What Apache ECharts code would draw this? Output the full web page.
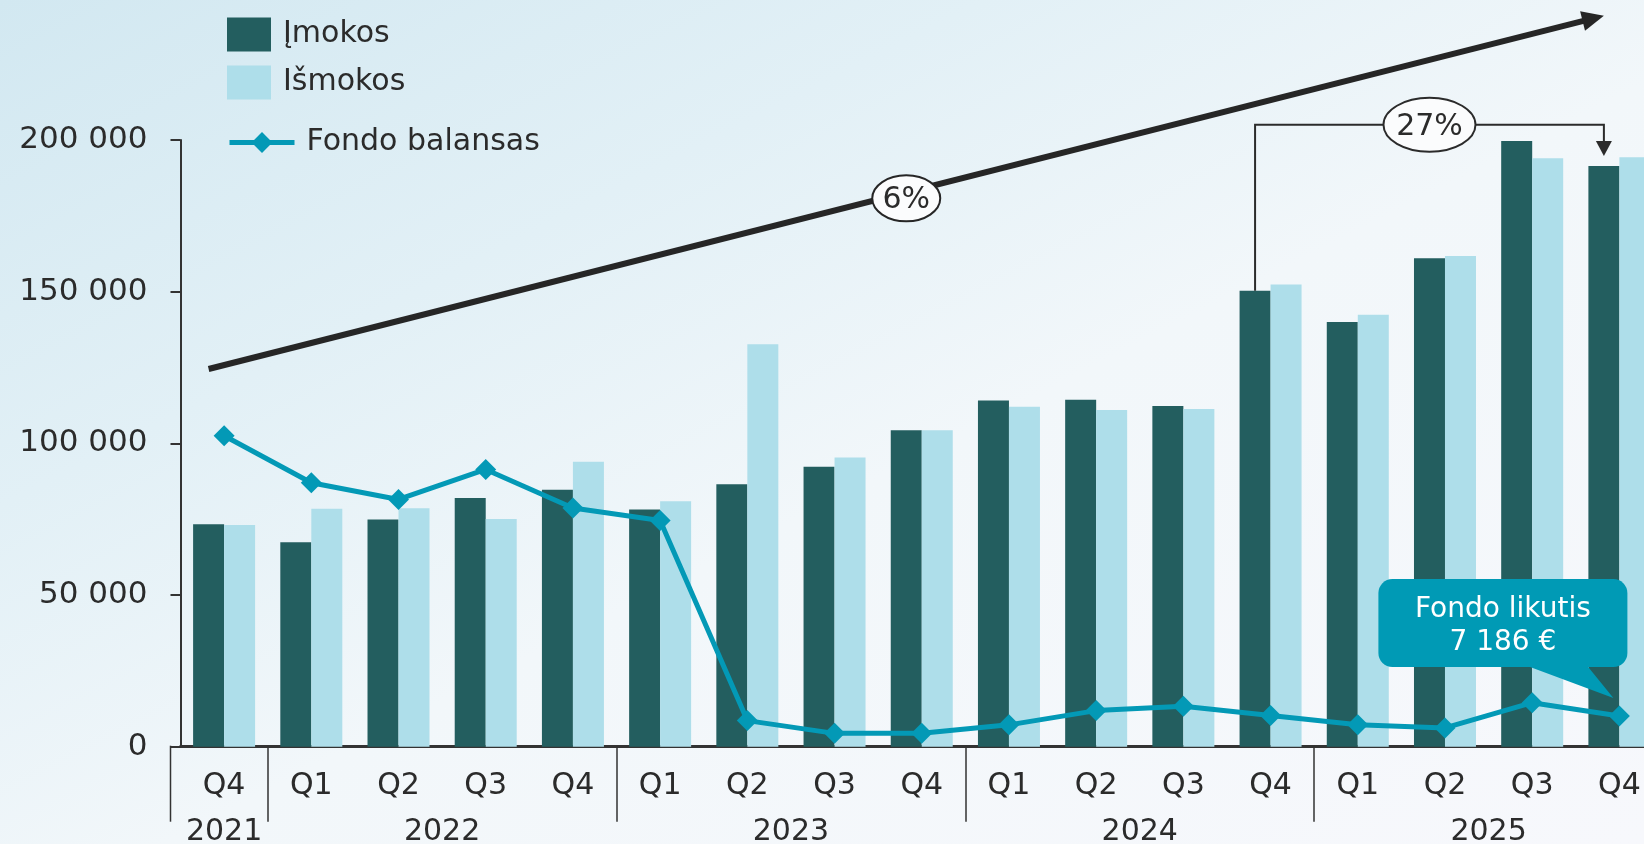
<!DOCTYPE html>
<html>
<head>
<meta charset="utf-8">
<script src="https://cdn.jsdelivr.net/npm/echarts@6/dist/echarts.min.js"></script>
<style>
  html, body { margin: 0; padding: 0; }
  #chart {
    width: 1644px;
    height: 844px;
    background: linear-gradient(to bottom right, #d2e8f1 0%, #e2f0f6 30%, #f2f7fa 55%, #f7f8fc 100%);
  }
</style>
</head>
<body>
<div id="chart"></div>
<script>
// quarters, grouped by year through the prefix
const categories = [
  '2021 Q4',
  '2022 Q1', '2022 Q2', '2022 Q3', '2022 Q4',
  '2023 Q1', '2023 Q2', '2023 Q3', '2023 Q4',
  '2024 Q1', '2024 Q2', '2024 Q3', '2024 Q4',
  '2025 Q1', '2025 Q2', '2025 Q3', '2025 Q4'
];
const imokos = [73300, 67400, 74900, 82000, 84700, 78200, 86500, 92300, 104300, 114100, 114400, 112300, 150300, 140000, 161000, 199700, 191400];
const ismokos = [73100, 78400, 78600, 75100, 93900, 80900, 132700, 95300, 104300, 112100, 111000, 111300, 152400, 142400, 161800, 194000, 194300];
const fondoBalansas = [102500, 87000, 81500, 91400, 78700, 74600, 8600, 4400, 4400, 7200, 11900, 13300, 10300, 7200, 6200, 14500, 10100];
const yTicks = [0, 50000, 100000, 150000, 200000];

// annotations
const trendLabel = '6%';
const trendFrom = [0, 124500];
const trendTo = [16, 241000];
const jumpLabel = '27%';
const jumpFrom = 12;
const jumpTo = 16;
const jumpTop = 205000;
const calloutLines = ['Fondo likutis', '7 186 €'];

const FONT = '"DejaVu Sans", sans-serif';
const TEXT = '#2b2b2b';
const AXIS = '#333333';
const DARK = '#235e5f';
const LIGHT = '#aedeea';
const LINE = '#0399b6';
const BAR_W = 31;

// year groups for the second axis (units: half a quarter)
const groups = [];
categories.forEach((c, i) => {
  const y = c.split(' ')[0];
  if (!groups.length || groups[groups.length - 1].year !== y) groups.push({ year: y, start: i, count: 0 });
  groups[groups.length - 1].count++;
});
const yearBounds = groups.slice(1).map(g => g.start * 2);
const yearCenters = groups.map(g => g.start * 2 + g.count);

const fmtThousands = v => {
  if (v === 0) return '0';
  const s = String(v);
  return s.slice(0, s.length - 3) + ' ' + s.slice(-3);
};

const chart = echarts.init(document.getElementById('chart'));

chart.setOption({
  animation: false,
  backgroundColor: 'transparent',
  textStyle: { fontFamily: FONT },
  grid: { left: 180.5, right: -19, top: 140, bottom: 97.3, outerBoundsMode: 'none' },
  legend: [
    {
      data: ['Įmokos', 'Išmokos'],
      orient: 'vertical',
      left: 227,
      top: 17.5,
      padding: 0,
      icon: 'rect',
      itemWidth: 44,
      itemHeight: 34,
      itemGap: 14,
      selectedMode: false,
      textStyle: { fontSize: 30, color: TEXT, fontFamily: FONT, padding: [9, 0, 0, 7] }
    },
    {
      data: ['Fondo balansas'],
      orient: 'vertical',
      left: 227,
      top: 127.5,
      padding: 0,
      itemWidth: 65,
      itemHeight: 26,
      selectedMode: false,
      lineStyle: { width: 5 },
      textStyle: { fontSize: 30, color: TEXT, fontFamily: FONT, padding: [9, 0, 0, 7] }
    }
  ],
  xAxis: [
    {
      type: 'category',
      data: categories,
      axisLine: { lineStyle: { color: AXIS, width: 3 } },
      axisTick: { show: false },
      axisLabel: {
        formatter: v => v.split(' ')[1],
        fontSize: 30,
        color: TEXT,
        fontFamily: FONT,
        margin: 25,
        interval: 0
      },
      splitLine: { show: false }
    },
    {
      type: 'value',
      position: 'bottom',
      min: 0,
      max: categories.length * 2,
      axisLine: { show: false },
      axisTick: {
        show: true,
        customValues: yearBounds,
        length: 75,
        lineStyle: { color: AXIS, width: 1.5 }
      },
      axisLabel: {
        show: true,
        customValues: yearCenters,
        formatter: v => {
          const k = yearCenters.indexOf(v);
          return k >= 0 ? groups[k].year : '';
        },
        fontSize: 30,
        color: TEXT,
        fontFamily: FONT,
        margin: 71
      },
      splitLine: { show: false }
    }
  ],
  yAxis: {
    type: 'value',
    min: yTicks[0],
    max: yTicks[yTicks.length - 1],
    interval: yTicks[1] - yTicks[0],
    axisLine: { show: true, lineStyle: { color: AXIS, width: 2 } },
    axisTick: { show: true, length: 10, lineStyle: { color: AXIS, width: 2 } },
    axisLabel: { formatter: fmtThousands, fontSize: 31, color: TEXT, fontFamily: FONT, margin: 33 },
    splitLine: { show: false }
  },
  series: [
    {
      name: 'Įmokos',
      type: 'bar',
      data: imokos,
      barWidth: BAR_W,
      barGap: '0%',
      itemStyle: { color: DARK }
    },
    {
      name: 'Išmokos',
      type: 'bar',
      data: ismokos,
      barWidth: BAR_W,
      barGap: '0%',
      itemStyle: { color: LIGHT }
    },
    {
      name: 'Fondo balansas',
      type: 'line',
      data: fondoBalansas,
      symbol: 'diamond',
      symbolSize: 21,
      z: 5,
      itemStyle: { color: LINE },
      lineStyle: { color: LINE, width: 5 }
    }
  ]
});

// annotations placed from data coordinates
const px = (i, v) => chart.convertToPixel({ seriesIndex: 0 }, [i, v]);
const darkX = i => px(i, 0)[0] - BAR_W / 2;
const graphics = [];

// long trend arrow
{
  const x1 = darkX(trendFrom[0]), y1 = px(trendFrom[0], trendFrom[1])[1];
  const x2 = darkX(trendTo[0]), y2 = px(trendTo[0], trendTo[1])[1];
  const len = Math.hypot(x2 - x1, y2 - y1);
  const ux = (x2 - x1) / len, uy = (y2 - y1) / len;
  const head = 22, half = 10;
  const bx = x2 - ux * head, by = y2 - uy * head;
  graphics.push({
    type: 'line', z: 100,
    shape: { x1: x1, y1: y1, x2: bx + ux * 2, y2: by + uy * 2 },
    style: { stroke: '#262626', lineWidth: 6 }
  });
  graphics.push({
    type: 'polygon', z: 100,
    shape: { points: [[x2, y2], [bx - uy * half, by + ux * half], [bx + uy * half, by - ux * half]] },
    style: { fill: '#262626' }
  });
  const mx = (x1 + x2) / 2, my = (y1 + y2) / 2 + 6;
  graphics.push({
    type: 'ellipse', z: 101,
    shape: { cx: mx, cy: my, rx: 34, ry: 23 },
    style: { fill: '#fbfcfd', stroke: '#262626', lineWidth: 2 }
  });
  graphics.push({
    type: 'text', z: 102, x: mx, y: my + 2,
    style: { text: trendLabel, fill: TEXT, font: '30px ' + FONT, align: 'center', verticalAlign: 'middle' }
  });
}

// 27% bracket
{
  const xa = darkX(jumpFrom), ya = px(jumpFrom, imokos[jumpFrom])[1];
  const xb = darkX(jumpTo), tipY = px(jumpTo, imokos[jumpTo])[1] - 10;
  const yt = px(jumpFrom, jumpTop)[1];
  const head = 15, half = 8;
  graphics.push({
    type: 'polyline', z: 100,
    shape: { points: [[xa, ya], [xa, yt], [xb, yt], [xb, tipY - head + 1]] },
    style: { stroke: TEXT, lineWidth: 2, fill: null }
  });
  graphics.push({
    type: 'polygon', z: 100,
    shape: { points: [[xb, tipY], [xb - half, tipY - head], [xb + half, tipY - head]] },
    style: { fill: TEXT }
  });
  const mx = (xa + xb) / 2;
  graphics.push({
    type: 'ellipse', z: 101,
    shape: { cx: mx, cy: yt, rx: 46, ry: 27 },
    style: { fill: '#fbfcfd', stroke: TEXT, lineWidth: 2 }
  });
  graphics.push({
    type: 'text', z: 102, x: mx, y: yt + 2,
    style: { text: jumpLabel, fill: TEXT, font: '30px ' + FONT, align: 'center', verticalAlign: 'middle' }
  });
}

// callout for the last balance point
{
  const last = fondoBalansas.length - 1;
  const p = px(last, fondoBalansas[last]);
  const tx = p[0] - 6, ty = p[1] - 18;
  const CALL = '#009ab5';
  graphics.push({
    type: 'rect', z: 110,
    shape: { x: tx - 235, y: ty - 119, width: 249, height: 88, r: 14 },
    style: { fill: CALL }
  });
  graphics.push({
    type: 'polygon', z: 110,
    shape: { points: [[tx - 86, ty - 32], [tx - 26, ty - 32], [tx, ty]] },
    style: { fill: CALL }
  });
  calloutLines.forEach((t, k) => {
    graphics.push({
      type: 'text', z: 111, x: tx - 110.5, y: ty - 88 + k * 33,
      style: { text: t, fill: '#ffffff', font: '28px ' + FONT, align: 'center', verticalAlign: 'middle' }
    });
  });
}

// left edge of the quarter/year table
{
  const x0 = px(0, 0)[0] - (px(1, 0)[0] - px(0, 0)[0]) / 2 - 10;
  const y0 = px(0, 0)[1];
  graphics.push({
    type: 'line', z: 50,
    shape: { x1: x0, y1: y0 - 1, x2: x0, y2: y0 + 75 },
    style: { stroke: AXIS, lineWidth: 1.5 }
  });
}

chart.setOption({ graphic: graphics });
</script>
</body>
</html>
